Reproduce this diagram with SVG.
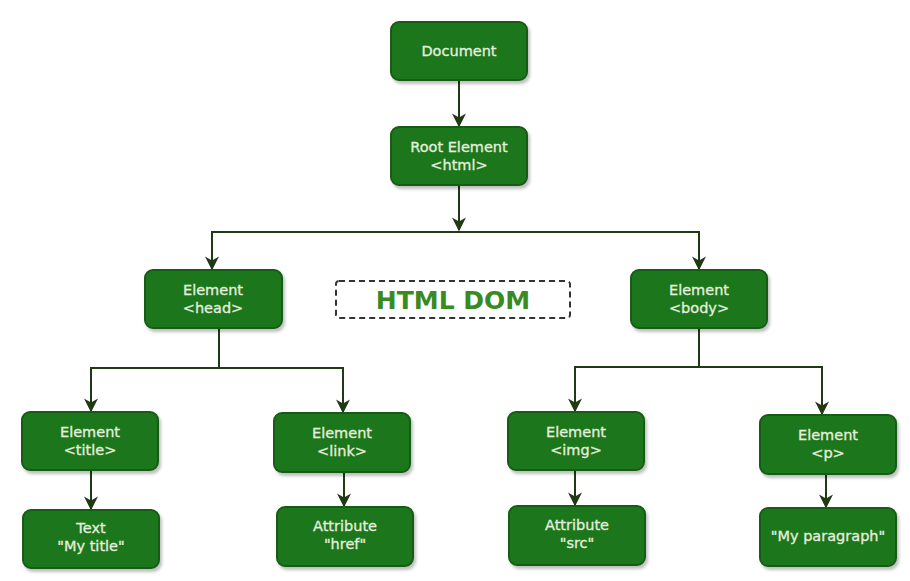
<svg xmlns="http://www.w3.org/2000/svg" width="910" height="581" viewBox="0 0 910 581">
<style>
.n rect{fill:#1e771e;stroke:#185c16;stroke-width:2;filter:url(#sh)}
.n text{fill:#e6efdf;font-family:"DejaVu Sans",Verdana,sans-serif;font-size:14.5px;text-anchor:middle;stroke:#e6efdf;stroke-width:0.3}
.c path{fill:none;stroke:#1f3a14;stroke-width:2}
</style>
<defs>
<filter id="sh" x="-10%" y="-10%" width="130%" height="140%"><feDropShadow dx="2" dy="3" stdDeviation="1.5" flood-color="#000" flood-opacity="0.25"/></filter>
<marker id="a" viewBox="0 0 10 10" refX="9" refY="5" markerWidth="7" markerHeight="7" markerUnits="strokeWidth" orient="auto"><path d="M0,0 L10,5 L0,10 L3,5 Z" fill="#1f3a14"/></marker>
</defs>
<rect width="910" height="581" fill="#fff"/>
<g class="c">
<path d="M459,80 V126" marker-end="url(#a)"/>
<path d="M459,185 V230" marker-end="url(#a)"/>
<path d="M212,269 V232 H699 V269" />
<path d="M212,240 V269" marker-end="url(#a)"/>
<path d="M699,240 V269" marker-end="url(#a)"/>
<path d="M219,328 V368 H91 V411" marker-end="url(#a)"/>
<path d="M219,368 H343 V412" marker-end="url(#a)"/>
<path d="M699,328 V367 H575 V411" marker-end="url(#a)"/>
<path d="M699,367 H822 V414" marker-end="url(#a)"/>
<path d="M91,470 V509" marker-end="url(#a)"/>
<path d="M344,472 V506" marker-end="url(#a)"/>
<path d="M575,470 V505" marker-end="url(#a)"/>
<path d="M826,474 V507" marker-end="url(#a)"/>
</g>
<g id="document" class="n"><rect x="391" y="22" width="136" height="58" rx="8"/><text x="459" y="56">Document</text></g>
<g id="root" class="n"><rect x="391" y="127" width="136" height="58" rx="8"/><text x="459" y="152">Root Element</text><text x="459" y="170">&lt;html&gt;</text></g>
<g id="head" class="n"><rect x="145" y="270" width="137" height="58" rx="8"/><text x="213" y="295">Element</text><text x="213" y="313">&lt;head&gt;</text></g>
<g id="body" class="n"><rect x="631" y="270" width="136" height="58" rx="8"/><text x="699" y="295">Element</text><text x="699" y="313">&lt;body&gt;</text></g>
<g id="label"><rect x="336" y="281" width="234" height="37" rx="3" fill="#fff" stroke="#333" stroke-width="2" stroke-dasharray="6,4"/><text x="453" y="309" fill="#3a8a22" font-family="DejaVu Sans,Verdana,sans-serif" font-size="25" font-weight="bold" text-anchor="middle">HTML DOM</text></g>
<g id="title" class="n"><rect x="22" y="412" width="136" height="58" rx="8"/><text x="90" y="437">Element</text><text x="90" y="455">&lt;title&gt;</text></g>
<g id="link" class="n"><rect x="274" y="413" width="136" height="59" rx="8"/><text x="342" y="438">Element</text><text x="342" y="456">&lt;link&gt;</text></g>
<g id="img" class="n"><rect x="508" y="412" width="136" height="58" rx="8"/><text x="576" y="437">Element</text><text x="576" y="455">&lt;img&gt;</text></g>
<g id="p" class="n"><rect x="760" y="415" width="136" height="59" rx="8"/><text x="828" y="440">Element</text><text x="828" y="458">&lt;p&gt;</text></g>
<g id="text" class="n"><rect x="23" y="510" width="136" height="58" rx="8"/><text x="91" y="533">Text</text><text x="91" y="551">"My title"</text></g>
<g id="href" class="n"><rect x="277" y="507" width="136" height="59" rx="8"/><text x="345" y="531">Attribute</text><text x="345" y="549">"href"</text></g>
<g id="src" class="n"><rect x="509" y="506" width="136" height="59" rx="8"/><text x="577" y="530">Attribute</text><text x="577" y="548">"src"</text></g>
<g id="para" class="n"><rect x="760" y="508" width="136" height="58" rx="8"/><text x="828" y="541">"My paragraph"</text></g>
</svg>
